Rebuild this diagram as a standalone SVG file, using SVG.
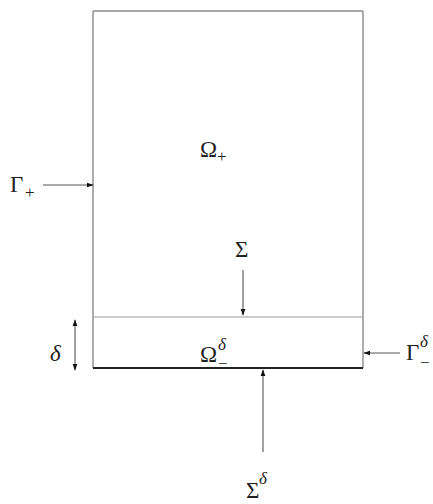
<svg xmlns="http://www.w3.org/2000/svg" width="433" height="504" viewBox="0 0 433 504">
<style>
.t{font-family:"Liberation Serif","Times New Roman",serif;fill:#222;}
.big{font-size:23px;}
.sub{font-size:17px;}
.edge{stroke:#8a8a8a;stroke-width:1.4;fill:none;}
.arr{stroke:#555;stroke-width:1.1;fill:none;}
</style>
<defs>
<marker id="ah" viewBox="0 0 10 10" refX="9" refY="5" markerWidth="7" markerHeight="7" orient="auto-start-reverse" markerUnits="userSpaceOnUse">
<path d="M0,1.5 L10,5 L0,8.5 z" fill="#111"/>
</marker>
</defs>
<rect x="0" y="0" width="433" height="504" fill="#fff"/>
<g id="domain">
<line class="edge" x1="93" y1="11" x2="93" y2="368"/>
<line class="edge" x1="363" y1="11" x2="363" y2="368"/>
<line class="edge" x1="93" y1="11" x2="363" y2="11"/>
<line x1="93" y1="317" x2="363" y2="317" stroke="#999" stroke-width="1.2"/>
<line x1="93" y1="368" x2="363" y2="368" stroke="#222" stroke-width="2"/>
</g>
<g id="connectors">
<line class="arr" x1="43" y1="185" x2="93" y2="185" marker-end="url(#ah)"/>
<line class="arr" x1="243" y1="270" x2="243" y2="315" marker-end="url(#ah)"/>
<line class="arr" x1="75" y1="320" x2="75" y2="370" marker-start="url(#ah)" marker-end="url(#ah)"/>
<line class="arr" x1="400" y1="353" x2="364" y2="353" marker-end="url(#ah)"/>
<line class="arr" x1="263" y1="452" x2="263" y2="370" marker-end="url(#ah)"/>
</g>
<g id="gamma-plus">
<text class="t big" x="10" y="192">Γ</text>
<text class="t sub" x="25" y="198">+</text>
</g>
<g id="omega-plus">
<text class="t big" x="200" y="157">Ω</text>
<text class="t sub" x="217" y="162">+</text>
</g>
<g id="sigma">
<text class="t big" x="235" y="257">Σ</text>
</g>
<g id="delta">
<text class="t big" x="50" y="361" font-style="italic">δ</text>
</g>
<g id="omega-minus">
<text class="t big" x="200" y="362">Ω</text>
<text class="t sub" x="218" y="350" font-style="italic">δ</text>
<text class="t sub" x="218" y="369">−</text>
</g>
<g id="gamma-minus">
<text class="t big" x="406" y="360">Γ</text>
<text class="t sub" x="420" y="347" font-style="italic">δ</text>
<text class="t sub" x="420" y="368">−</text>
</g>
<g id="sigma-delta">
<text class="t big" x="246" y="498">Σ</text>
<text class="t sub" x="259" y="484" font-style="italic">δ</text>
</g>
</svg>
